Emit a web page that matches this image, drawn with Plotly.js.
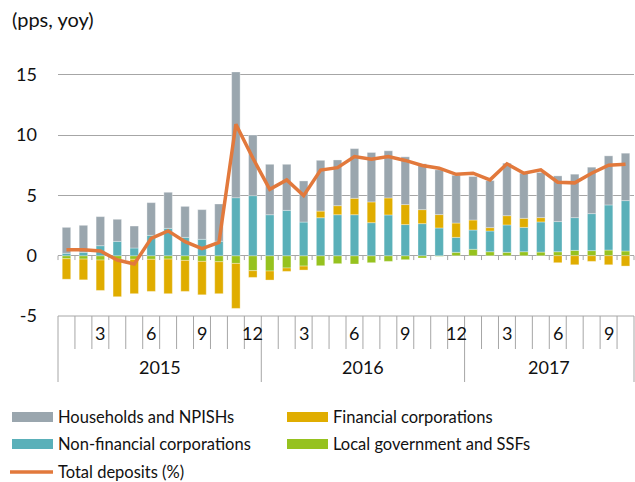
<!DOCTYPE html>
<html>
<head>
<meta charset="utf-8">
<script src="https://cdn.plot.ly/plotly-3.0.1.min.js"></script>
<style>html,body{margin:0;padding:0;background:#fff;}#chart{width:635px;height:482px;}</style>
</head>
<body>
<div id="chart"></div>
<script>
// ---- data ----
const categories = ['2015-01','2015-02','2015-03','2015-04','2015-05','2015-06','2015-07','2015-08','2015-09','2015-10','2015-11','2015-12',
                    '2016-01','2016-02','2016-03','2016-04','2016-05','2016-06','2016-07','2016-08','2016-09','2016-10','2016-11','2016-12',
                    '2017-01','2017-02','2017-03','2017-04','2017-05','2017-06','2017-07','2017-08','2017-09','2017-10'];
const monthLabels = ['','','3','','','6','','','9','','','12',
                     '','','3','','','6','','','9','','','12',
                     '','','3','','','6','','','9',''];
const yearLabels = ['2015','2016','2017'];
const yearStarts = [0, 12, 24];
const yearCounts = [12, 12, 10];

const localGov = [-0.25,-0.28,-0.36,-0.30,-0.30,-0.30,-0.28,-0.39,-0.47,-0.50,-0.64,-1.24,
                  -1.27,-1.02,-0.86,-0.83,-0.66,-0.69,-0.58,-0.47,-0.33,-0.19,-0.05,0.28,
                  0.53,0.33,0.28,0.33,0.30,0.33,0.44,0.42,0.47,0.39];
const nonFinCorp = [0.20,0.28,0.83,1.19,0.64,1.69,2.27,1.52,1.36,1.20,4.81,4.98,
                    3.40,3.76,2.79,3.15,3.40,3.40,2.74,3.38,2.58,2.66,2.30,1.24,
                    1.60,1.72,2.27,2.02,2.50,2.50,2.72,3.07,3.74,4.18];
const finCorp = [-1.70,-1.72,-2.52,-3.10,-2.85,-2.66,-2.87,-2.57,-2.77,-2.65,-3.73,-0.56,
                 -0.75,-0.28,-0.33,0.55,0.75,1.36,1.72,1.41,1.66,1.16,1.11,1.19,
                 0.83,0.28,0.77,0.75,0.36,-0.58,-0.75,-0.47,-0.75,-0.86];
const households = [2.15,2.24,2.41,1.83,1.82,2.71,2.99,2.57,2.46,3.09,10.43,5.03,
                    4.18,3.82,3.41,4.21,3.79,4.12,4.10,3.91,3.96,3.80,3.71,3.96,
                    3.61,3.90,4.35,3.74,3.74,3.79,3.60,3.85,4.07,3.93];
const totalDeposits = [0.50,0.50,0.39,-0.36,-0.69,1.44,2.06,1.16,0.58,1.10,10.90,8.10,
                       5.50,6.28,4.98,7.10,7.30,8.22,8.00,8.23,7.90,7.48,7.26,6.75,
                       6.84,6.29,7.62,6.84,7.12,6.09,6.04,6.84,7.50,7.59];
const seriesNames = ['Households and NPISHs','Financial corporations','Non-financial corporations','Local government and SSFs','Total deposits (%)'];

// ---- style ----
const colors = {hh:'#9aa6ae', fc:'#e0ad00', nfc:'#5ab0b9', lg:'#96c21f', tot:'#e2793c'};
const FONT = 'Lato, "Open Sans", sans-serif';
const W = 635, H = 482;
const ml = 58, mr = 1, mt = 70, mb = 166;
const plotW = W - ml - mr, plotH = H - mt - mb;
const N = categories.length;
const pxX = px => (px - ml) / plotW;
const pxY = py => (mt + plotH - py) / plotH;

const barLine = {color:'rgba(255,255,255,0.55)', width:0.6};
const traces = [
  {type:'bar', name:seriesNames[3], x:categories, y:localGov, marker:{color:colors.lg, line:barLine}, showlegend:false},
  {type:'bar', name:seriesNames[2], x:categories, y:nonFinCorp, marker:{color:colors.nfc, line:barLine}, showlegend:false},
  {type:'bar', name:seriesNames[1], x:categories, y:finCorp, marker:{color:colors.fc, line:barLine}, showlegend:false},
  {type:'bar', name:seriesNames[0], x:categories, y:households, marker:{color:colors.hh, line:barLine}, showlegend:false},
  {type:'scatter', mode:'lines', name:seriesNames[4], x:categories, y:totalDeposits, line:{color:colors.tot, width:3.5}, showlegend:false}
];

const axisGrey = '#a6a6a6';
const shapes = [];
const annotations = [];
// horizontal line at bottom of plot (-5)
shapes.push({type:'line', xref:'paper', yref:'paper', x0:0, x1:1, y0:0, y1:0, line:{color:axisGrey, width:1}});
// category boxes
for (let k = 0; k <= N; k++) {
  const isYear = yearStarts.includes(k) || k === N;
  shapes.push({type:'line', xref:'paper', yref:'paper', x0:k/N, x1:k/N, y0:0, y1:pxY(isYear ? 382 : 349), line:{color:axisGrey, width:1}});
  // tick marks on zero line
  shapes.push({type:'line', xref:'paper', yref:'y', x0:k/N, x1:k/N, y0:0, y1:-0.36, line:{color:axisGrey, width:1}, layer:'below'});
}
categories.forEach((c, i) => {
  if (monthLabels[i]) annotations.push({x:c, xref:'x', yref:'paper', y:pxY(333), text:monthLabels[i], showarrow:false, xanchor:'center', yanchor:'middle', font:{family:FONT, size:18, color:'#111'}});
});
yearLabels.forEach((yl, j) => {
  annotations.push({xref:'paper', yref:'paper', x:(yearStarts[j] + yearCounts[j]/2)/N, y:pxY(367), text:yl, showarrow:false, xanchor:'center', yanchor:'middle', font:{family:FONT, size:18, color:'#111'}});
});

// custom legend
const legendItems = [
  {name:seriesNames[0], color:colors.hh, x:12, y:417, kind:'bar'},
  {name:seriesNames[1], color:colors.fc, x:287, y:417, kind:'bar'},
  {name:seriesNames[2], color:colors.nfc, x:12, y:444, kind:'bar'},
  {name:seriesNames[3], color:colors.lg, x:287, y:444, kind:'bar'},
  {name:seriesNames[4], color:colors.tot, x:12, y:472, kind:'line'}
];
legendItems.forEach(it => {
  if (it.kind === 'bar') {
    shapes.push({type:'rect', xref:'paper', yref:'paper', x0:pxX(it.x), x1:pxX(it.x + 41), y0:pxY(it.y - 5), y1:pxY(it.y + 5), fillcolor:it.color, line:{width:0}});
  } else {
    shapes.push({type:'line', xref:'paper', yref:'paper', x0:pxX(it.x - 2), x1:pxX(it.x + 41), y0:pxY(it.y), y1:pxY(it.y), line:{color:it.color, width:3.5}});
  }
  annotations.push({xref:'paper', yref:'paper', x:pxX(it.x + 44), y:pxY(it.y), text:it.name, showarrow:false, xanchor:'left', yanchor:'middle', font:{family:FONT, size:16.5, color:'#111'}});
});

const layout = {
  width:W, height:H,
  margin:{l:ml, r:mr, t:mt, b:mb, pad:0},
  paper_bgcolor:'#fff', plot_bgcolor:'#fff',
  font:{family:FONT, size:18, color:'#111'},
  title:{text:'(pps, yoy)', xref:'container', yref:'container', x:12/W, y:1 - 20/H, xanchor:'left', yanchor:'middle', font:{family:FONT, size:20, color:'#111'}},
  barmode:'relative', bargap:0.5,
  showlegend:false,
  xaxis:{type:'category', range:[-0.5, N - 0.5], showticklabels:false, ticks:'', showgrid:false, zeroline:false, showline:false, fixedrange:true},
  yaxis:{range:[-5, 15.4], tickmode:'array', tickvals:[-5,0,5,10,15], ticktext:['-5','0','5','10','15'], showgrid:true, gridcolor:axisGrey, gridwidth:1,
         zeroline:true, zerolinecolor:axisGrey, zerolinewidth:1.3, showline:false, ticks:'', ticklabelstandoff:20, tickfont:{family:FONT, size:18, color:'#111'}},
  shapes:shapes, annotations:annotations
};
Plotly.newPlot('chart', traces, layout, {staticPlot:true, displayModeBar:false});
</script>
</body>
</html>
